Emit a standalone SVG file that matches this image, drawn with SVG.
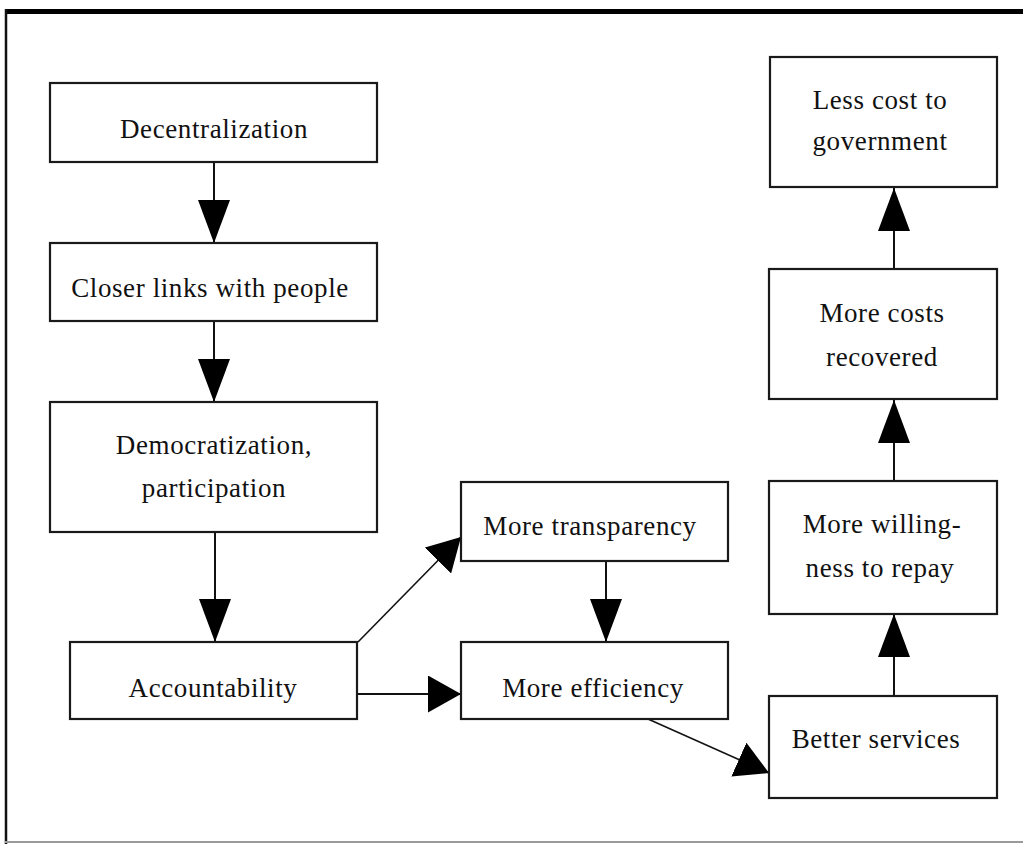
<svg xmlns="http://www.w3.org/2000/svg" width="1023" height="844" viewBox="0 0 1023 844">
  <style>
    .box { fill: #ffffff; stroke: #1a1a1a; stroke-width: 2.2; }
    .lbl { font-family: "Liberation Serif", "DejaVu Serif", serif; font-size: 27px; letter-spacing: 0.6px; fill: #111; text-anchor: middle; }
    .wire { stroke: #111; stroke-width: 2; fill: none; }
    .thin { stroke: #111; stroke-width: 1.6; fill: none; }
  </style>
  <defs>
    <marker id="headV" markerUnits="userSpaceOnUse" viewBox="0 0 43 32" markerWidth="43" markerHeight="32" refX="43" refY="16" orient="auto">
      <path d="M0,0 L43,16 L0,32 Z" fill="#000"/>
    </marker>
    <marker id="headS" markerUnits="userSpaceOnUse" viewBox="0 0 33 37" markerWidth="33" markerHeight="37" refX="33" refY="18.5" orient="auto">
      <path d="M0,0 L33,18.5 L0,37 Z" fill="#000"/>
    </marker>
  </defs>

  <rect width="1023" height="844" fill="#ffffff"/>

  <!-- outer frame -->
  <g id="frame">
    <line x1="5" y1="11.5" x2="1023" y2="11.5" stroke="#000" stroke-width="5"/>
    <line x1="6" y1="9" x2="6" y2="844" stroke="#111" stroke-width="2.5"/>
    <line x1="5" y1="842" x2="1023" y2="842" stroke="#9a9a9a" stroke-width="2"/>
  </g>

  <!-- connectors -->
  <g id="connectors">
    <line class="wire" x1="214" y1="162" x2="214" y2="243" marker-end="url(#headV)"/>
    <line class="wire" x1="214" y1="321" x2="214" y2="402" marker-end="url(#headV)"/>
    <line class="wire" x1="215" y1="532" x2="215" y2="642" marker-end="url(#headV)"/>
    <line class="thin" x1="358" y1="642" x2="461" y2="537" marker-end="url(#headS)"/>
    <line class="wire" x1="357" y1="694" x2="461" y2="694" marker-end="url(#headS)"/>
    <line class="wire" x1="606" y1="561" x2="606" y2="642" marker-end="url(#headV)"/>
    <line class="thin" x1="648" y1="719" x2="769" y2="773" marker-end="url(#headS)"/>
    <line class="wire" x1="894" y1="696" x2="894" y2="614" marker-end="url(#headV)"/>
    <line class="wire" x1="894" y1="481" x2="894" y2="400" marker-end="url(#headV)"/>
    <line class="wire" x1="894" y1="269" x2="894" y2="188" marker-end="url(#headV)"/>
  </g>

  <!-- nodes -->
  <g id="decentralization">
    <rect class="box" x="50" y="83" width="327" height="79"/>
    <text class="lbl" x="214" y="138">Decentralization</text>
  </g>
  <g id="closer-links">
    <rect class="box" x="50" y="243" width="327" height="78"/>
    <text class="lbl" x="210" y="297">Closer links with people</text>
  </g>
  <g id="democratization">
    <rect class="box" x="50" y="402" width="327" height="130"/>
    <text class="lbl" x="214" y="454">Democratization,</text>
    <text class="lbl" x="214" y="497">participation</text>
  </g>
  <g id="accountability">
    <rect class="box" x="70" y="642" width="287" height="77"/>
    <text class="lbl" x="213" y="697">Accountability</text>
  </g>
  <g id="transparency">
    <rect class="box" x="461" y="482" width="267" height="79"/>
    <text class="lbl" x="590" y="535">More transparency</text>
  </g>
  <g id="efficiency">
    <rect class="box" x="461" y="642" width="267" height="77"/>
    <text class="lbl" x="593" y="697">More efficiency</text>
  </g>
  <g id="better-services">
    <rect class="box" x="769" y="696" width="228" height="102"/>
    <text class="lbl" x="876" y="748">Better services</text>
  </g>
  <g id="willingness">
    <rect class="box" x="769" y="481" width="228" height="133"/>
    <text class="lbl" x="882" y="533">More willing-</text>
    <text class="lbl" x="880" y="577">ness to repay</text>
  </g>
  <g id="costs-recovered">
    <rect class="box" x="769" y="269" width="228" height="130"/>
    <text class="lbl" x="882" y="322">More costs</text>
    <text class="lbl" x="882" y="366">recovered</text>
  </g>
  <g id="less-cost">
    <rect class="box" x="770" y="57" width="227" height="130"/>
    <text class="lbl" x="880" y="109">Less cost to</text>
    <text class="lbl" x="880" y="150">government</text>
  </g>
</svg>
